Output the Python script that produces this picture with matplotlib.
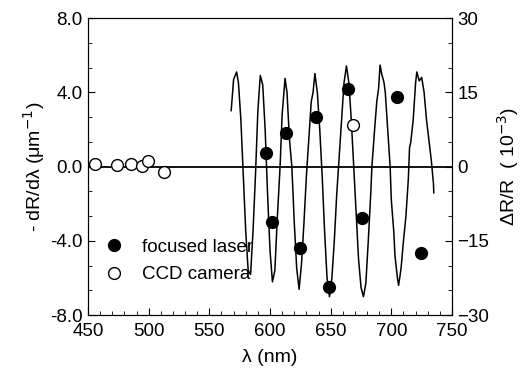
import matplotlib
matplotlib.use("Agg")
import matplotlib.pyplot as plt
from matplotlib.ticker import MultipleLocator

plt.rcParams['font.family'] = ['Liberation Sans', 'DejaVu Sans']

# CCD camera measurements (open circles), -dR/dlambda in um^-1
ccd_wl = [455.8, 474.2, 485.4, 494.3, 499.7, 512.4, 668.7]
ccd_val = [0.13, 0.08, 0.12, 0.04, 0.30, -0.30, 2.24]

# focused laser measurements (filled circles)
laser_wl = [596.7, 601.7, 613.2, 624.7, 637.9, 649.0, 664.0, 675.6, 704.4, 724.5]
laser_val = [0.73, -3.0, 1.79, -4.41, 2.68, -6.47, 4.16, -2.79, 3.73, -4.68]

# differential reflectance trace, dR/R in units of 1e-3
trace_wl = [568, 570, 572.5, 574, 576, 578, 580, 582, 584, 586, 588, 590, 592, 594,
            596, 598, 600, 602, 604, 606, 608.3, 610, 612.4, 614, 616, 618, 620, 622,
            624, 626, 628, 630, 632, 634, 635.5, 637, 639, 641, 643, 645, 647, 649,
            651, 653, 655, 657, 659, 661, 663, 665, 667, 669, 671, 673, 675, 677,
            679, 681, 683, 684, 686, 688, 689.5, 690.7, 692, 694, 695, 697, 699, 700,
            702, 703, 705, 706, 708, 710, 712, 714, 715, 716, 718, 720, 721, 723,
            725, 727, 729, 731, 733, 734.7, 735]
trace_val = [11.3, 17.6, 19.1, 16.9, 9.4, -1.9, -13.1, -21.0, -21.8, -13.1, -1.9,
             11.3, 18.4, 16.5, 7.5, -5.6, -16.9, -23.3, -21.0, -10.5, 0.0, 10.5,
             17.8, 15.0, 5.6, 0.0, -11.3, -20.6, -24.8, -19.5, -11.3, -1.9, 5.6,
             13.1, 15.0, 18.8, 15.0, 7.5, -1.9, -13.1, -22.5, -26.3, -22.5, -15.0,
             -5.6, 1.9, 9.4, 16.9, 20.3, 16.9, 9.4, 0.0, -9.4, -18.8, -24.4, -26.3,
             -23.6, -15.0, -5.6, 0.0, 6.8, 13.1, 15.8, 20.5, 18.8, 16.9, 15.0, 7.5,
             0.0, -6.8, -13.1, -18.0, -22.5, -24.0, -20.6, -15.0, -10.1, -2.6, 3.8,
             4.9, 9.4, 16.9, 19.1, 17.3, 18.0, 15.0, 9.4, 5.3, 1.1, -3.4, -5.3]

fig = plt.figure(figsize=(5.22, 3.89), dpi=100)
ax = fig.add_axes([0.1686, 0.1902, 0.6973, 0.7635])
ax2 = ax.twinx()

ax.axhline(0, color='black', lw=1.3, zorder=1)
ax2.plot(trace_wl, trace_val, color='black', lw=1.1)
ax.plot(laser_wl, laser_val, 'o', color='black', ms=8.5, zorder=3, label='focused laser')
ax.plot(ccd_wl, ccd_val, 'o', mfc='white', mec='black', mew=1.0, ms=8.5, zorder=3,
        label='CCD camera')

ax.set_xlim(450, 750)
ax.set_ylim(-8, 8)
ax2.set_ylim(-30, 30)
ax.set_zorder(ax2.get_zorder() + 1)
ax.patch.set_visible(False)

ax.xaxis.set_major_locator(MultipleLocator(50))
ax.xaxis.set_minor_locator(MultipleLocator(10))
ax.yaxis.set_major_locator(MultipleLocator(4))
ax.yaxis.set_minor_locator(MultipleLocator(4 / 3))
ax2.yaxis.set_major_locator(MultipleLocator(15))
ax2.yaxis.set_minor_locator(MultipleLocator(5))
ax.yaxis.set_major_formatter(plt.FuncFormatter(lambda v, p: f"{v:.1f}"))

for a in (ax, ax2):
    a.tick_params(which='both', direction='in', labelsize=13.5, pad=4)
    a.tick_params(which='major', length=5)
    a.tick_params(which='minor', length=3)
ax.tick_params(axis='x', pad=6)
ax.tick_params(top=False)

ax.set_xlabel('λ (nm)', fontsize=14, labelpad=6)
ax.set_ylabel('- dR/dλ (μm$^{-1}$)', fontsize=14, labelpad=2)
ax2.set_ylabel('ΔR/R  ( 10$^{-3}$)', fontsize=14, labelpad=4)

ax.legend(loc='lower left', bbox_to_anchor=(0.0, 0.05), frameon=False, fontsize=13.5,
          handletextpad=1.0, labelspacing=0.55, handlelength=1.0)

fig.savefig('out.png', dpi=100)
